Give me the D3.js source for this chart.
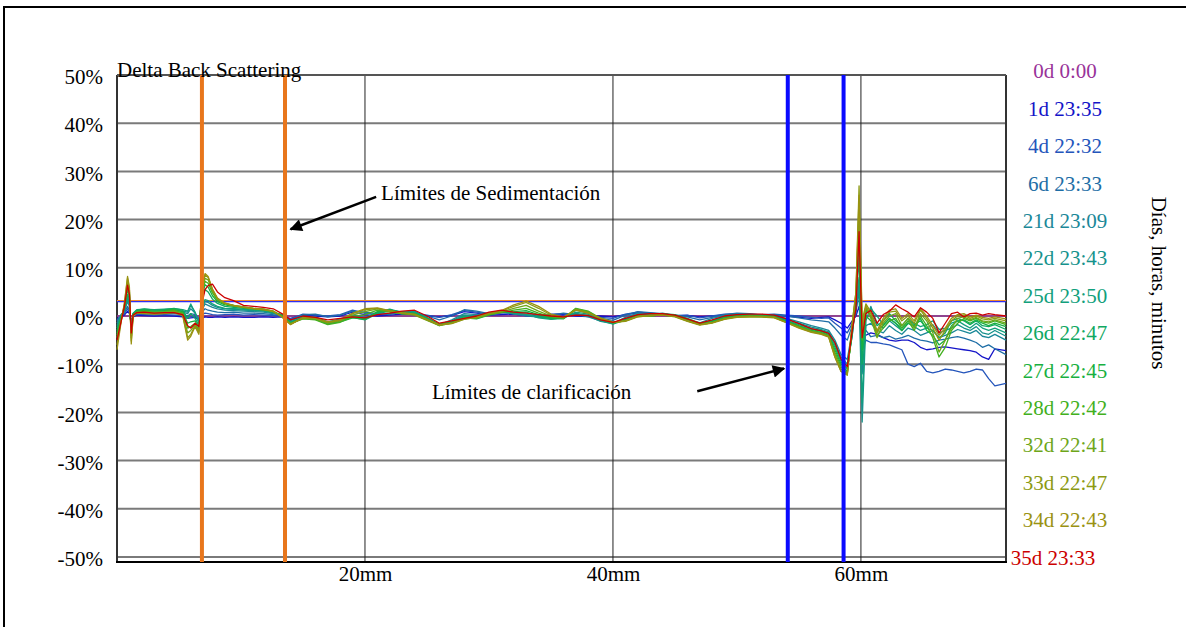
<!DOCTYPE html>
<html><head><meta charset="utf-8">
<script src="https://cdn.jsdelivr.net/npm/d3@7"></script>
<style>
body{margin:0;background:#fff}
svg{display:block}
text{font-family:"Liberation Serif","Times New Roman",serif}
</style>
</head><body>
<svg id="chart" width="1186" height="627"></svg>
<script>
// ---------------- DATA ----------------
const positions = [
  0,0.3,0.6,0.85,1.0,1.15,1.3,1.6,2.2,3.0,3.8,4.6,5.3,5.7,5.95,6.3,6.6,6.85,7.1,7.35,7.7,8.1,8.7,9.4,10.2,11.0,11.8,12.6,13.3,14.0,
  15,16,17,18,19,20,21,22,23,24,25,26,27,28,29,30,31,32,33,34,35,36,37,38,39,40,41,42,43,44,45,46,47,48,49,50,51,52,53,54,55,56,
  56.8,57.4,57.9,58.4,58.9,59.3,59.6,59.85,60.1,60.4,60.8,
  61.3,61.8,62.3,62.8,63.3,63.8,64.3,64.8,65.3,65.8,66.3,66.8,67.3,67.8,68.3,68.8,69.3,69.8,70.3,70.8,71.7
];
const seriesNames = ["0d 0:00","1d 23:35","4d 22:32","6d 23:33","21d 23:09","22d 23:43","25d 23:50","26d 22:47","27d 22:45","28d 22:42","32d 22:41","33d 22:47","34d 22:43","35d 23:33"];
const seriesColors = ["#993399","#1414C8","#2455BB","#1E6EA6","#1B8898","#16928C","#12A07C","#10A862","#18B040","#42B020","#6EA61A","#8C9A12","#9A9212","#CC0000"];

const d0 = [
  0,0,0,0,0,0,0,0,0,0,0,0,0,0,0,0,0,0,0,0,0,0,0,0,0,0,0,0,0,0,
  0,0,0,0,0,0,0,0,0,0,0,0,0,0,0,0,0,0,0,0,0,0,0,0,0,0,0,0,0,0,0,0,0,0,0,0,0,0,0,0,0,0,
  0,0,0,0,0,0,0,0,0,0,0,
  0,0,0,0,0,0,0,0,0,0,0,0,0,0,0,0,0,0,0,0,0];
const d1 = [
  -0.5,-0.3,0.2,1.0,0.5,-1.0,-0.2,0.2,0.1,0.0,0.1,0.0,-0.2,-0.5,-0.4,-0.3,-0.8,-0.5,-0.2,-0.3,-0.3,-0.2,-0.3,-0.2,-0.3,-0.3,-0.2,-0.3,-0.2,-0.5,
  0.2,0.0,-0.2,0.0,0.8,0.3,0.0,0.2,0.4,0.3,0.0,-0.2,0.1,0.9,0.6,0.2,0.3,0.4,0.1,0.0,0.2,0.3,0.0,-0.1,0.0,-0.2,0.3,0.6,0.4,0.2,0.0,0.1,-0.2,0.0,0.2,0.3,0.2,0.1,0.2,0.0,-0.3,-0.5,
  -0.3,-0.2,-0.8,-1.5,-2.5,-1.0,0.0,2.0,-3.0,-4.0,-3.5,
  -3.8,-4.5,-5.0,-5.2,-5.0,-5.0,-5.5,-6.5,-7.0,-6.8,-6.5,-6.4,-6.6,-6.8,-7.0,-7.2,-7.5,-8.5,-9.0,-6.8,-7.2];
const d4 = [
  -0.8,-0.2,0.5,1.5,0.8,-1.5,0.0,0.4,0.3,0.2,0.3,0.2,0.1,-0.3,-0.2,0.0,-0.5,0.3,0.6,0.5,0.3,0.2,0.3,0.4,0.2,0.3,0.2,0.1,0.0,-0.6,
  0.4,0.2,0.0,0.3,1.2,0.6,0.3,0.5,0.8,0.6,0.2,-0.3,0.3,1.1,0.8,0.4,0.6,0.7,0.3,0.1,0.4,0.5,0.2,0.0,-0.3,-0.5,0.4,0.8,0.6,0.4,0.1,0.2,-0.4,0.0,0.4,0.5,0.4,0.3,0.4,0.2,0.0,-0.3,
  -0.5,-0.4,-1.5,-2.5,-3.5,-1.5,0.5,7.4,-7.0,-5.0,-5.5,
  -5.5,-5.8,-6.0,-6.5,-7.0,-10.0,-10.5,-9.8,-11.5,-11.8,-11.5,-11.0,-11.2,-11.5,-11.8,-11.5,-11.0,-11.2,-13.0,-14.5,-14.0];
const d6 = [
  -1.0,0.0,0.8,2.0,1.2,-1.8,0.2,0.6,0.5,0.4,0.5,0.5,0.4,0.0,0.5,0.3,-0.6,0.8,1.5,1.2,1.0,0.8,0.7,0.8,0.6,0.6,0.5,0.3,0.2,-0.8,
  0.3,0.4,-0.2,0.2,1.0,0.8,0.5,0.3,0.9,0.4,0.0,-0.8,0.0,1.3,1.0,0.5,0.8,0.5,0.0,-0.2,0.2,0.6,0.3,0.2,-0.5,-0.9,0.2,0.9,0.7,0.5,0.0,-0.2,-0.8,-0.3,0.3,0.6,0.5,0.2,0.3,0.0,-0.4,-0.8,
  -1.0,-1.2,-2.5,-4.0,-5.0,-2.0,1.0,5.0,-5.0,-3.0,-4.3,
  -4.0,-4.5,-4.2,-4.8,-4.5,-4.0,-4.6,-5.0,-5.2,-5.6,-5.0,-4.8,-4.5,-4.3,-4.6,-5.0,-5.5,-6.5,-6.0,-6.8,-8.0];
const d21 = [
  -1.5,0.2,1.0,3.0,2.0,-2.2,0.4,0.9,0.8,0.7,0.8,0.9,0.8,0.5,1.5,0.6,-1.0,1.2,2.5,2.2,1.8,1.5,1.2,1.1,1.0,0.9,0.8,0.5,0.2,-1.0,
  0.0,-0.2,-1.2,-0.6,0.2,-0.3,0.6,1.2,0.8,1.0,-0.3,-1.8,-0.8,0.5,0.3,0.6,1.0,0.4,0.2,-0.2,-0.3,-0.1,0.4,-0.2,-1.0,-1.5,-0.3,0.6,0.3,0.4,0.0,-0.9,-1.4,-0.5,0.1,0.4,0.3,0.2,0.0,-0.5,-1.2,-2.0,
  -2.5,-3.0,-5.0,-8.0,-9.0,-3.0,2.0,6.0,-12.0,-2.0,-1.5,
  -3.0,-3.5,-2.0,-3.0,-3.8,-2.5,-3.0,-4.0,-3.5,-3.0,-4.5,-4.0,-3.5,-2.8,-3.2,-3.6,-3.0,-4.2,-4.5,-3.8,-5.0];
const d22 = [
  -2.0,0.0,1.2,3.5,2.5,-2.5,0.5,1.1,1.0,1.0,1.1,1.2,1.0,0.8,2.2,0.8,-1.2,1.5,3.0,2.8,2.2,1.8,1.5,1.4,1.2,1.1,1.0,0.6,0.3,-1.2,
  -0.2,-0.5,-1.5,-0.8,0.0,-0.6,0.8,1.4,0.7,0.9,-0.5,-1.9,-1.0,0.2,0.0,0.5,1.1,0.6,0.3,-0.3,-0.5,-0.3,0.6,0.0,-1.1,-1.6,-0.6,0.4,0.2,0.6,0.1,-0.8,-1.6,-0.9,-0.1,0.3,0.4,0.1,-0.1,-0.7,-1.5,-2.3,
  -2.8,-3.3,-5.5,-8.5,-10.0,-4.0,3.0,4.8,-22.0,-1.0,2.0,
  -1.5,-2.5,-1.0,-2.0,-3.0,-1.5,-2.2,-3.0,-2.5,-1.8,-3.5,-3.0,-2.5,-1.8,-2.5,-3.0,-2.2,-3.5,-3.8,-3.0,-4.2];
const d25 = [
  -2.5,-0.2,1.5,4.0,3.0,-3.0,0.6,1.3,1.4,1.3,1.4,1.5,1.3,1.0,2.5,0.6,-1.5,2.0,3.4,3.2,2.5,2.0,1.6,1.5,1.4,1.2,1.1,0.7,0.3,-1.3,
  -0.4,-0.6,-1.7,-1.0,-0.3,-0.8,0.5,1.0,0.4,0.8,-0.6,-2.0,-1.2,0.0,-0.3,0.3,0.9,0.5,0.4,-0.4,-0.7,-0.5,0.8,0.4,-0.9,-1.7,-0.8,0.2,0.0,0.4,0.2,-0.7,-1.7,-1.0,-0.3,0.2,0.3,0.0,-0.2,-0.9,-1.8,-2.6,
  -3.0,-3.5,-6.0,-9.0,-10.5,-4.0,3.5,8.0,-18.0,0.5,1.5,
  0.0,-1.8,-0.5,-1.5,-2.5,-1.0,-1.5,-2.2,-1.8,-1.0,-2.8,-2.5,-1.5,-1.0,-1.8,-2.5,-1.5,-2.5,-3.0,-2.5,-3.5];
const d26 = [
  -3.0,-0.5,1.5,4.5,3.5,-3.2,0.4,1.2,1.5,1.2,1.3,1.6,1.2,-0.5,0.5,-0.5,-2.0,3.5,5.5,5.0,3.5,2.6,2.0,1.8,1.6,1.4,1.2,0.8,0.2,-1.4,
  -0.3,-0.4,-1.4,-0.9,-0.2,-0.5,0.7,1.1,0.9,0.6,-0.4,-1.7,-1.1,-0.2,-0.4,0.4,1.0,0.7,0.8,0.0,-0.6,-0.4,1.2,0.6,-0.7,-1.4,-0.7,0.3,0.2,0.5,0.3,-0.5,-1.5,-1.1,-0.2,0.1,0.2,0.1,0.0,-1.0,-2.0,-2.8,
  -3.2,-3.8,-6.5,-9.5,-11.0,-3.5,3.0,12.0,-10.0,1.0,0.5,
  -2.0,-1.0,0.5,-1.0,-2.0,-0.5,-1.8,-1.0,-2.5,-3.0,-4.5,-3.5,-1.0,-0.5,-1.0,-1.8,-1.0,-2.0,-2.2,-1.8,-2.8];
const d27 = [
  -3.5,-0.8,1.8,5.5,4.0,-3.5,0.3,1.0,1.2,1.0,1.1,1.4,0.9,-1.5,-1.2,-1.0,-2.5,4.0,6.5,6.0,4.2,3.0,2.3,2.0,1.8,1.5,1.3,0.9,0.1,-1.5,
  -0.5,-0.7,-1.6,-1.2,-0.4,-0.7,0.9,1.3,0.6,0.5,-0.7,-1.8,-1.3,-0.4,-0.6,0.2,0.8,0.9,1.1,0.3,-0.4,-0.6,1.5,0.9,-0.6,-1.5,-0.9,0.1,0.0,0.3,0.1,-0.8,-1.6,-1.2,-0.4,0.0,0.1,0.0,-0.1,-1.1,-2.1,-3.0,
  -3.4,-4.0,-7.0,-10.0,-11.5,-3.0,3.5,16.0,-7.0,0.0,-1.0,
  -3.0,-2.0,-0.5,-1.5,-3.0,-1.5,-2.0,-0.5,-3.0,-4.0,-6.0,-5.0,-2.0,-1.0,-0.8,-1.5,-0.8,-1.5,-2.0,-1.5,-2.2];
const d28 = [
  -4.0,-1.0,2.0,6.0,4.5,-4.0,0.2,0.9,1.0,0.8,0.9,1.2,0.6,-2.5,-2.2,-1.5,-3.0,4.5,7.2,6.8,4.8,3.3,2.5,2.2,1.9,1.6,1.4,1.0,0.0,-1.6,
  -0.6,-0.8,-1.8,-1.3,-0.2,0.3,1.2,0.8,0.5,0.3,-0.8,-1.9,-1.4,-0.5,-0.5,0.3,0.7,1.2,1.6,0.6,-0.2,-0.5,1.6,1.0,-0.5,-1.3,-1.0,0.0,0.1,0.2,0.0,-0.9,-1.7,-1.3,-0.5,-0.1,0.0,-0.1,-0.2,-1.2,-2.2,-3.1,
  -3.5,-4.1,-7.5,-10.5,-11.8,-2.5,4.0,20.0,-5.0,1.5,0.0,
  -4.0,-2.5,-1.0,-0.5,-2.5,-1.0,-3.0,0.0,-2.0,-4.5,-8.5,-6.5,-3.0,-1.5,-0.5,-1.0,-0.5,-1.2,-1.5,-1.0,-1.8];
const d32 = [
  -4.5,-1.2,2.2,6.8,5.0,-4.5,0.1,0.8,0.8,0.7,0.8,1.0,0.4,-3.5,-3.0,-1.8,-3.2,5.0,7.8,7.5,5.2,3.5,2.6,2.2,1.8,1.6,1.4,1.0,-0.1,-1.6,
  -0.5,-0.6,-1.5,-1.0,0.2,0.9,1.5,0.9,0.5,0.2,-0.9,-2.0,-1.5,-0.6,-0.4,0.4,0.8,1.6,2.2,1.0,0.0,-0.4,1.4,0.8,-0.6,-1.4,-1.0,-0.1,0.0,0.3,-0.1,-1.0,-1.8,-1.4,-0.6,-0.2,-0.1,-0.2,-0.3,-1.3,-2.3,-3.2,
  -3.6,-4.2,-8.0,-11.0,-12.0,-2.0,4.5,23.0,-3.0,2.0,-0.5,
  -4.5,-1.5,0.0,0.5,-2.0,-0.5,-2.5,0.5,-1.0,-3.5,-7.5,-5.0,-2.5,-0.5,-0.2,-0.8,-0.3,-1.0,-1.2,-0.8,-1.5];
const d33 = [
  -6.0,-1.5,2.5,7.8,5.5,-5.2,0.0,0.7,0.6,0.5,0.6,0.8,0.2,-4.5,-3.8,-2.0,-3.5,5.5,8.5,8.0,5.5,3.6,2.6,2.1,1.8,1.5,1.3,0.9,-0.2,-1.7,
  -0.4,-0.5,-1.3,-0.9,0.5,1.3,1.6,1.0,0.6,0.3,-0.8,-1.9,-1.6,-0.7,-0.3,0.5,1.0,2.0,2.8,1.6,0.2,-0.3,1.3,0.7,-0.5,-1.3,-1.1,-0.2,0.1,0.2,-0.2,-1.1,-1.9,-1.5,-0.7,-0.3,-0.2,-0.2,-0.4,-1.4,-2.4,-3.3,
  -3.7,-4.3,-8.5,-11.5,-12.3,-1.5,5.0,27.0,-1.0,2.5,0.8,
  -3.5,-1.0,0.8,1.0,-1.0,0.0,-1.5,1.2,-0.5,-2.5,-5.0,-3.0,-1.0,0.0,0.2,-0.5,0.0,-0.6,-0.8,-0.5,-1.0];
const d34 = [
  -7.0,-1.8,2.8,8.2,6.0,-5.8,-0.1,0.6,0.5,0.4,0.5,0.7,0.1,-5.0,-4.2,-2.2,-3.8,5.8,8.8,8.2,5.6,3.7,2.7,2.2,1.9,1.6,1.4,1.0,-0.2,-1.8,
  -0.3,-0.4,-1.2,-0.8,0.6,1.5,1.7,1.1,0.7,0.4,-0.7,-1.8,-1.5,-0.6,-0.2,0.6,1.1,2.3,3.1,2.0,0.4,-0.2,1.2,0.6,-0.4,-1.2,-1.0,-0.1,0.2,0.3,-0.1,-1.0,-1.8,-1.4,-0.6,-0.2,-0.1,-0.1,-0.3,-1.4,-2.5,-3.4,
  -3.8,-4.4,-8.5,-11.5,-12.0,-1.5,5.0,25.0,-2.0,2.0,0.5,
  -3.0,-0.5,1.2,1.5,-0.5,0.5,-1.0,1.5,0.0,-2.0,-4.0,-2.5,-0.5,0.3,0.5,-0.2,0.2,-0.3,-0.5,-0.2,-0.6];
const d35 = [
  -5.0,-1.5,2.0,6.4,4.5,-3.5,0.2,0.7,0.8,0.6,0.7,0.7,0.3,-2.0,-2.5,-1.5,-2.2,2.5,5.5,6.3,6.6,5.0,3.8,3.2,2.2,2.0,1.8,1.5,0.5,-0.8,
  0.0,-0.3,-0.8,-0.5,-0.2,-0.4,0.3,0.6,1.0,1.2,0.0,-1.5,-1.0,-0.5,0.0,0.8,1.2,0.8,0.6,0.3,0.0,-0.2,0.2,0.1,-0.8,-1.3,-0.5,0.3,0.5,0.5,0.2,-0.6,-1.5,-0.8,0.0,0.3,0.4,0.4,0.2,-0.6,-1.6,-2.6,
  -3.1,-3.6,-5.5,-9.0,-10.5,-3.0,1.5,17.5,-4.5,0.5,1.2,
  -1.5,0.3,1.0,2.3,1.5,0.8,-0.2,1.7,0.8,-0.5,-3.5,-1.5,0.5,0.8,-0.2,0.5,0.6,0.2,0.5,0.3,0.0];
const seriesValues = [d0,d1,d4,d6,d21,d22,d25,d26,d27,d28,d32,d33,d34,d35];

const yTicks = [-50,-40,-30,-20,-10,0,10,20,30,40,50];
const xTicks = [20,40,60];
const sedimentationLimits = [6.85, 13.55];   // mm
const clarificationLimits = [54.1, 58.6];    // mm
const thresholdOrange = 3.2;  // %
const thresholdBlue = 3.0;    // %

// ---------------- LAYOUT ----------------
const svg = d3.select("#chart");
const L = 117, R = 1006, T = 75, B = 557, FRAME_B = 562;
const x = d3.scaleLinear().domain([0, 71.7]).range([L, R]);
const y = d3.scaleLinear().domain([-50, 50]).range([B, T]);
const FS = 21;

svg.append("rect").attr("width",1186).attr("height",627).attr("fill","#fff");
// outer frame (cut at right & bottom)
svg.append("path").attr("d","M4,640 L4,7 L1200,7").attr("fill","none").attr("stroke","#000").attr("stroke-width",2);

// horizontal grid
svg.append("g").selectAll("line").data(yTicks).join("line")
  .attr("x1",L).attr("x2",R).attr("y1",d=>y(d)).attr("y2",d=>y(d))
  .attr("stroke","#7a7a7a").attr("stroke-width",2);
// vertical grid
svg.append("g").selectAll("line").data(xTicks).join("line")
  .attr("x1",d=>x(d)).attr("x2",d=>x(d)).attr("y1",T).attr("y2",FRAME_B)
  .attr("stroke","#222").attr("stroke-width",1);

// plot frame
svg.append("line").attr("x1",L).attr("x2",L).attr("y1",T).attr("y2",FRAME_B).attr("stroke","#333").attr("stroke-width",2);
svg.append("line").attr("x1",R).attr("x2",R).attr("y1",T).attr("y2",FRAME_B).attr("stroke","#333").attr("stroke-width",2);
svg.append("line").attr("x1",L-1).attr("x2",R+1).attr("y1",FRAME_B).attr("y2",FRAME_B).attr("stroke","#000").attr("stroke-width",2);
svg.append("line").attr("x1",L).attr("x2",R).attr("y1",T).attr("y2",T).attr("stroke","#555").attr("stroke-width",2);

// threshold lines
svg.append("line").attr("x1",L).attr("x2",R).attr("y1",y(thresholdOrange)).attr("y2",y(thresholdOrange)).attr("stroke","#F08A30").attr("stroke-width",1.2);
svg.append("line").attr("x1",L).attr("x2",R).attr("y1",y(thresholdBlue)).attr("y2",y(thresholdBlue)).attr("stroke","#3030F0").attr("stroke-width",1.2);

// data lines
const line = d3.line().x((d,i)=>x(positions[i])).y(d=>y(d));
svg.append("g").selectAll("path").data(seriesValues).join("path")
  .attr("d", d=>line(d)).attr("fill","none")
  .attr("stroke",(d,i)=>seriesColors[i]).attr("stroke-width",1.3)
  .attr("stroke-linejoin","round");

// limit lines
svg.append("g").selectAll("line").data(sedimentationLimits).join("line")
  .attr("x1",d=>x(d)).attr("x2",d=>x(d)).attr("y1",T).attr("y2",FRAME_B)
  .attr("stroke","#E8761C").attr("stroke-width",4);
svg.append("g").selectAll("line").data(clarificationLimits).join("line")
  .attr("x1",d=>x(d)).attr("x2",d=>x(d)).attr("y1",T).attr("y2",FRAME_B)
  .attr("stroke","#0A0AFF").attr("stroke-width",4);

// axes
const yAxis = svg.append("g").attr("transform",`translate(${L},2)`)
  .call(d3.axisLeft(y).tickValues(yTicks).tickFormat(d=>d+"%").tickSize(0).tickPadding(14));
yAxis.select(".domain").remove();
yAxis.selectAll("text").attr("font-size",FS).attr("font-family","Liberation Serif, Times New Roman, serif").attr("fill","#000");

const xAxis = svg.append("g").attr("transform",`translate(0,${FRAME_B})`)
  .call(d3.axisBottom(x).tickValues(xTicks).tickFormat(d=>d+"mm").tickSize(0).tickPadding(4));
xAxis.select(".domain").remove();
xAxis.selectAll("text").attr("font-size",FS).attr("font-family","Liberation Serif, Times New Roman, serif").attr("fill","#000");

// title
svg.append("text").attr("x",L).attr("y",77).attr("font-size",FS).text("Delta Back Scattering");

// legend
const legendStep = 37.4;
svg.append("g").selectAll("text").data(seriesNames).join("text")
  .attr("x",(d,i)=> i===seriesNames.length-1 ? 1053 : 1065)
  .attr("y",(d,i)=>71 + i*legendStep).attr("dy","0.35em")
  .attr("text-anchor","middle").attr("font-size",FS)
  .attr("fill",(d,i)=>seriesColors[i]).text(d=>d);

// right axis title
svg.append("text").attr("transform","translate(1152,283) rotate(90)")
  .attr("text-anchor","middle").attr("font-size",FS).text("Días, horas, minutos");

// annotations
const defs = svg.append("defs");
defs.append("marker").attr("id","ah").attr("viewBox","0 0 10 10").attr("refX",9).attr("refY",5)
  .attr("markerWidth",6).attr("markerHeight",5).attr("orient","auto").attr("markerUnits","strokeWidth")
  .append("path").attr("d","M0,0 L10,5 L0,10 Z").attr("fill","#000");

const annotations = [
  {text:"Límites de Sedimentación", tx:21.3, ty:24.0, from:[20.9,24.7], to:[14.0,18.0]},
  {text:"Límites de clarificación", tx:25.4, ty:-17.2, from:[46.8,-15.6], to:[53.8,-10.9]}
];
annotations.forEach(a=>{
  svg.append("text").attr("x",x(a.tx)).attr("y",y(a.ty)).attr("font-size",FS).text(a.text);
  svg.append("line").attr("x1",x(a.from[0])).attr("y1",y(a.from[1]))
    .attr("x2",x(a.to[0])).attr("y2",y(a.to[1]))
    .attr("stroke","#000").attr("stroke-width",2.5).attr("marker-end","url(#ah)");
});
</script>
</body></html>
